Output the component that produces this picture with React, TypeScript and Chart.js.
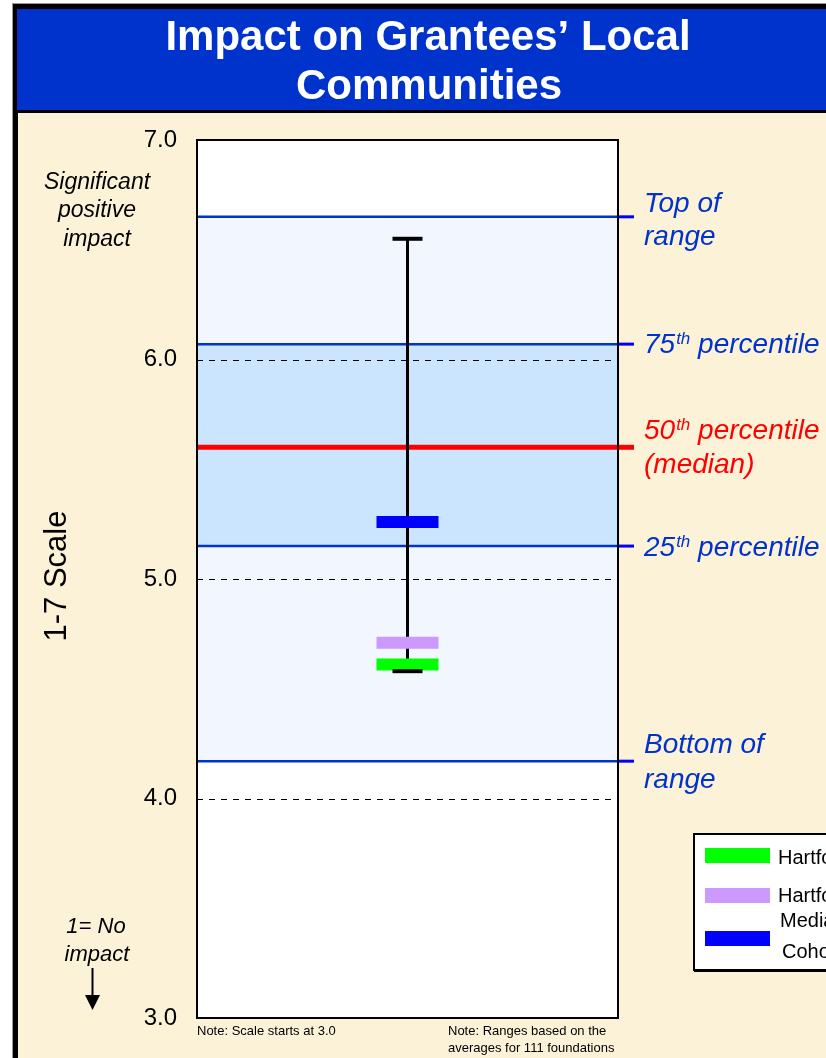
import React, { useEffect, useRef } from "react";
import { Chart, registerables } from "chart.js";

Chart.register(...registerables);

// ---------- data ----------
const yTickValues = [3, 4, 5, 6, 7];
const rangeNames = ["Top of range", "75th percentile", "50th percentile (median)", "25th percentile", "Bottom of range"];
const rangeValues = [6.65, 6.07, 5.6, 5.15, 4.17];
const whiskerValues = [6.55, 4.58];
const seriesNames = ["Hartford Foundation 2005", "Hartford Foundation 2003", "Median Funder in Cohort"];
const seriesValues = [4.61, 4.71, 5.26];
const seriesColors = ["#00FF00", "#CC99FF", "#0000FF"];

const FONT = '"Liberation Sans", Arial, Helvetica, sans-serif';
const BLUE_TXT = "#0033CC";

function drawSup(ctx: CanvasRenderingContext2D, x: number, y: number, num: string, sup: string, rest: string, color: string) {
  ctx.fillStyle = color;
  ctx.textAlign = "left";
  ctx.textBaseline = "alphabetic";
  ctx.font = `italic 28px ${FONT}`;
  ctx.fillText(num, x, y);
  let w = ctx.measureText(num).width;
  ctx.font = `italic 17px ${FONT}`;
  ctx.fillText(sup, x + w + 1, y - 9);
  w += ctx.measureText(sup).width + 1;
  ctx.font = `italic 28px ${FONT}`;
  ctx.fillText(rest, x + w, y);
}

const decor = {
  id: "decor",
  beforeDraw(chart: any) {
    const { ctx, width, height } = chart;
    ctx.save();
    ctx.fillStyle = "#ffffff";
    ctx.fillRect(0, 0, width, height);
    ctx.fillStyle = "#9a9a9a";
    ctx.fillRect(12, 3, width, height);
    ctx.fillStyle = "#000000";
    ctx.fillRect(13, 4, width, height);
    ctx.fillStyle = "#0033CC";
    ctx.fillRect(17, 9, width, 101);
    ctx.fillStyle = "#FCF2D8";
    ctx.fillRect(18, 113, width, height);
    // title
    ctx.fillStyle = "#ffffff";
    ctx.font = `bold 42px ${FONT}`;
    ctx.textAlign = "center";
    ctx.textBaseline = "alphabetic";
    ctx.fillText("Impact on Grantees\u2019 Local", 428, 50);
    ctx.fillText("Communities", 429, 99);
    ctx.restore();
  },
  beforeDatasetsDraw(chart: any) {
    const { ctx, chartArea } = chart;
    const y = chart.scales.y;
    const { left, right, top, bottom } = chartArea;
    ctx.save();
    ctx.fillStyle = "#ffffff";
    ctx.fillRect(left, top, right - left, bottom - top);
    // outer band
    const yTop = y.getPixelForValue(rangeValues[0]);
    const yBot = y.getPixelForValue(rangeValues[4]);
    ctx.fillStyle = "#F2F7FF";
    ctx.fillRect(left, yTop, right - left, yBot - yTop);
    const y75 = y.getPixelForValue(rangeValues[1]);
    const y25 = y.getPixelForValue(rangeValues[3]);
    ctx.fillStyle = "#CCE5FF";
    ctx.fillRect(left, y75, right - left, y25 - y75);
    // dashed gridlines
    ctx.strokeStyle = "#000000";
    ctx.lineWidth = 1;
    ctx.setLineDash([6, 6]);
    yTickValues.forEach((v) => {
      if (v === y.min || v === y.max) return;
      const py = Math.round(y.getPixelForValue(v)) + 0.5;
      ctx.beginPath();
      ctx.moveTo(left, py);
      ctx.lineTo(right, py);
      ctx.stroke();
    });
    ctx.setLineDash([]);
    // range lines
    rangeValues.forEach((v, i) => {
      const py = y.getPixelForValue(v);
      const isMed = i === 2;
      ctx.strokeStyle = isMed ? "#FF0000" : "#0033CC";
      ctx.lineWidth = isMed ? 5 : 2.5;
      ctx.beginPath();
      ctx.moveTo(left, py);
      ctx.lineTo(right, py);
      ctx.stroke();
      ctx.strokeStyle = isMed ? "#FF0000" : "#0000FF";
      ctx.lineWidth = isMed ? 5 : 3;
      ctx.beginPath();
      ctx.moveTo(right, py);
      ctx.lineTo(right + 16, py);
      ctx.stroke();
    });
    // plot border
    ctx.strokeStyle = "#000000";
    ctx.lineWidth = 2;
    ctx.strokeRect(left, top, right - left, bottom - top);
    ctx.restore();
  },
  afterDraw(chart: any) {
    const { ctx, chartArea } = chart;
    const y = chart.scales.y;
    ctx.save();
    // right labels
    const lx = chartArea.right + 26;
    const pTop = y.getPixelForValue(rangeValues[0]);
    ctx.fillStyle = BLUE_TXT;
    ctx.font = `italic 28px ${FONT}`;
    ctx.textAlign = "left";
    ctx.textBaseline = "alphabetic";
    ctx.fillText("Top of", lx, pTop - 5);
    ctx.fillText("range", lx, pTop + 28);
    drawSup(ctx, lx, y.getPixelForValue(rangeValues[1]) + 9, "75", "th", " percentile", BLUE_TXT);
    const pMed = y.getPixelForValue(rangeValues[2]);
    drawSup(ctx, lx, pMed - 8, "50", "th", " percentile", "#FF0000");
    ctx.fillStyle = "#FF0000";
    ctx.font = `italic 28px ${FONT}`;
    ctx.fillText("(median)", lx, pMed + 26);
    drawSup(ctx, lx, y.getPixelForValue(rangeValues[3]) + 10, "25", "th", " percentile", BLUE_TXT);
    const pBot = y.getPixelForValue(rangeValues[4]);
    ctx.fillStyle = BLUE_TXT;
    ctx.font = `italic 28px ${FONT}`;
    ctx.fillText("Bottom of", lx, pBot - 8);
    ctx.fillText("range", lx, pBot + 27);

    // left annotations
    ctx.fillStyle = "#000000";
    ctx.font = `italic 23px ${FONT}`;
    ctx.textAlign = "center";
    ctx.fillText("Significant", 97, 189);
    ctx.fillText("positive", 97, 217);
    ctx.fillText("impact", 97, 246);
    ctx.font = `italic 22px ${FONT}`;
    ctx.fillText("1= No", 96, 933);
    ctx.fillText("impact", 97, 961);
    // arrow
    ctx.strokeStyle = "#000000";
    ctx.lineWidth = 2;
    ctx.beginPath();
    ctx.moveTo(92.5, 968);
    ctx.lineTo(92.5, 997);
    ctx.stroke();
    ctx.beginPath();
    ctx.moveTo(85, 995);
    ctx.lineTo(100, 995);
    ctx.lineTo(92.5, 1010);
    ctx.closePath();
    ctx.fill();

    // y title
    ctx.save();
    ctx.translate(66, 576);
    ctx.rotate(-Math.PI / 2);
    ctx.font = `31px ${FONT}`;
    ctx.textAlign = "center";
    ctx.textBaseline = "alphabetic";
    ctx.fillText("1-7 Scale", 0, 0);
    ctx.restore();

    // notes
    ctx.font = `13px ${FONT}`;
    ctx.textAlign = "left";
    ctx.fillStyle = "#000000";
    ctx.fillText("Note: Scale starts at 3.0", chartArea.left, 1035);
    ctx.fillText("Note: Ranges based on the", 448, 1035);
    ctx.fillText("averages for 111 foundations", 448, 1052);

    // legend
    const bx = 694, by = 834, bw = 300, bh = 136;
    ctx.fillStyle = "#ffffff";
    ctx.fillRect(bx, by, bw, bh);
    ctx.strokeStyle = "#000000";
    ctx.lineWidth = 2;
    ctx.strokeRect(bx, by, bw, bh);
    ctx.fillStyle = "#000000";
    ctx.fillRect(bx, by + bh, bw, 2);
    const swY = [848, 888, 931];
    seriesColors.forEach((c, i) => {
      ctx.fillStyle = c;
      ctx.fillRect(705, swY[i], 65, 15);
    });
    ctx.fillStyle = "#000000";
    ctx.font = `20px ${FONT}`;
    ctx.fillText(seriesNames[0], 778, 864);
    ctx.fillText(seriesNames[1], 778, 902);
    ctx.fillText("Median Funder in", 780, 927);
    ctx.fillText("Cohort", 782, 958);
    ctx.restore();
  },
};

export default function App() {
  const ref = useRef<HTMLCanvasElement>(null);
  useEffect(() => {
    if (!ref.current) return;
    const markerSets = seriesValues.map((v, i) => ({
      type: "scatter" as const,
      label: seriesNames[i],
      data: [{ x: 0.5, y: v }],
      pointStyle: "line" as const,
      pointRadius: 31,
      pointBorderWidth: 12,
      pointBorderColor: seriesColors[i],
      pointBackgroundColor: seriesColors[i],
      borderColor: seriesColors[i],
      backgroundColor: seriesColors[i],
      order: 2 + (seriesValues.length - i),
    }));
    const chart = new Chart(ref.current, {
      type: "scatter",
      data: {
        datasets: [
          {
            type: "line" as const,
            label: "caps",
            data: whiskerValues.map((v) => ({ x: 0.5, y: v })),
            showLine: false,
            pointStyle: "line",
            pointRadius: 15,
            pointBorderWidth: 4,
            pointBorderColor: "#000000",
            borderColor: "#000000",
            order: 1,
          },
          ...markerSets,
          {
            type: "line" as const,
            label: "whisker",
            data: whiskerValues.map((v) => ({ x: 0.5, y: v })),
            showLine: true,
            borderColor: "#000000",
            borderWidth: 3,
            pointRadius: 0,
            order: 10,
          },
        ] as any,
      },
      options: {
        responsive: false,
        animation: false,
        devicePixelRatio: 1,
        layout: { autoPadding: false, padding: { left: 0, top: 140, right: 208, bottom: 40 } },
        plugins: { legend: { display: false }, tooltip: { enabled: false }, title: { display: false } },
        scales: {
          x: { type: "linear", min: 0, max: 1, display: false },
          y: {
            type: "linear",
            min: 3,
            max: 7,
            afterFit: (s: any) => {
              s.width = 197;
            },
            afterBuildTicks: (s: any) => {
              s.ticks = yTickValues.map((v) => ({ value: v }));
            },
            ticks: {
              padding: 20,
              color: "#000000",
              font: { family: FONT, size: 24 },
              callback: (v: any) => Number(v).toFixed(1),
            },
            grid: { display: false, drawTicks: false },
            border: { display: false },
          },
        },
      },
      plugins: [decor],
    });
    return () => chart.destroy();
  }, []);
  return (
    <div style={{ position: "fixed", left: 0, top: 0, width: 826, height: 1058, overflow: "hidden" }}>
      <canvas ref={ref} width={826} height={1058} style={{ display: "block", width: 826, height: 1058 }} />
    </div>
  );
}
